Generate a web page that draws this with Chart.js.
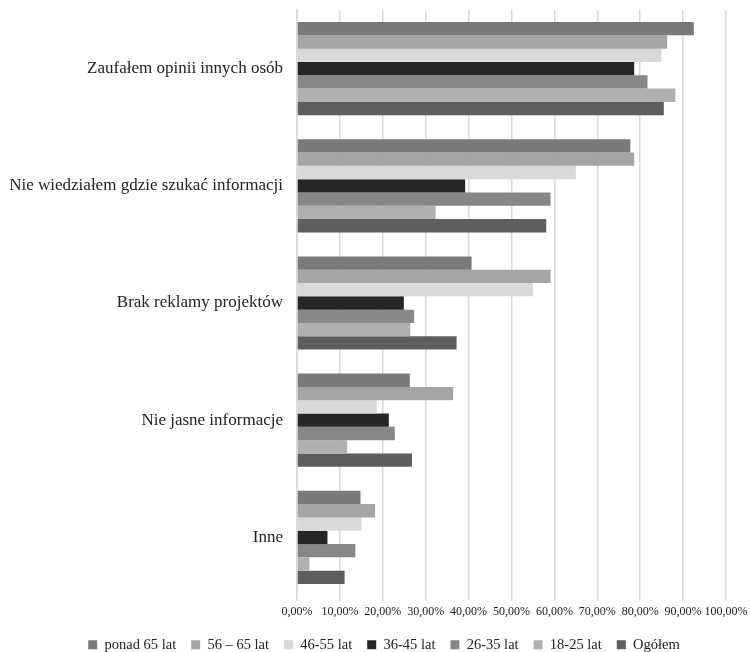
<!DOCTYPE html>
<html>
<head>
<meta charset="utf-8">
<script src="https://cdn.jsdelivr.net/npm/chart.js@4/dist/chart.umd.min.js"></script>
<style>
  html, body { margin: 0; padding: 0; background: #fff; }
  #wrap { width: 750px; height: 652px; }
</style>
</head>
<body>
<div id="wrap"><canvas id="barChart"></canvas></div>
<script>
let categories = ['Zaufałem opinii innych osób', 'Nie wiedziałem gdzie szukać informacji', 'Brak reklamy projektów', 'Nie jasne informacje', 'Inne'];
let seriesNames = ['ponad 65 lat', '56 – 65 lat', '46-55 lat', '36-45 lat', '26-35 lat', '18-25 lat', 'Ogółem'];
let seriesColors = ['#7a7a7a', '#a5a5a5', '#d9d9d9', '#262626', '#878787', '#b0b0b0', '#5e5e5e'];

let ponad65 = [0.925, 0.777, 0.407, 0.263, 0.148];
let lat56_65 = [0.863, 0.786, 0.591, 0.364, 0.182];
let lat46_55 = [0.849, 0.650, 0.550, 0.186, 0.150];
let lat36_45 = [0.786, 0.392, 0.249, 0.214, 0.071];
let lat26_35 = [0.817, 0.591, 0.273, 0.228, 0.136];
let lat18_25 = [0.882, 0.323, 0.264, 0.117, 0.029];
let ogolem = [0.855, 0.581, 0.372, 0.268, 0.111];

let seriesValues = [ponad65, lat56_65, lat46_55, lat36_45, lat26_35, lat18_25, ogolem];

// legend in the picture sits a little right of the page centre
let legendShift = {
    id: 'legendShift',
    afterLayout: function(c) {
        c.legend.left += 7;
        c.legend.right += 7;
    }
};

let chart = document.getElementById('barChart');
let barChart = new Chart(chart, {
    type: 'bar',
    data: {
        labels: categories,
        datasets: seriesNames.map(function(name, i) {
            return {
                label: name,
                data: seriesValues[i],
                backgroundColor: seriesColors[i],
                borderWidth: 0,
                barPercentage: 1.0,
                categoryPercentage: 0.795
            };
        })
    },
    plugins: [legendShift],
    options: {
        indexAxis: 'y',
        responsive: true,
        maintainAspectRatio: false,
        animation: false,
        layout: { padding: { left: 4, right: 0, top: 10, bottom: -10 } },
        plugins: {
            legend: {
                position: 'bottom',
                labels: {
                    font: { family: 'Liberation Serif', size: 14.5 },
                    color: '#222',
                    boxWidth: 9,
                    boxHeight: 9,
                    padding: 15
                }
            },
            tooltip: { enabled: false }
        },
        scales: {
            x: {
                min: 0,
                max: 1,
                afterFit: function(scale) {
                    scale.height = 26.5;
                    scale.paddingLeft = 0;
                    scale.paddingRight = 24;
                },
                ticks: {
                    stepSize: 0.1,
                    maxRotation: 0,
                    autoSkip: false,
                    color: '#222',
                    padding: 4,
                    font: { family: 'Liberation Serif', size: 12 },
                    callback: function(v) { return (v * 100).toFixed(2).replace('.', ',') + '%'; }
                },
                grid: { color: '#d9d9d9', lineWidth: 1.5, tickLength: 5 },
                border: { display: false }
            },
            y: {
                afterFit: function(scale) {
                    scale.width = 293;
                    scale.paddingTop = 0;
                    scale.paddingBottom = 0;
                },
                ticks: {
                    color: '#222',
                    padding: 14,
                    font: { family: 'Liberation Serif', size: 17 }
                },
                grid: { display: false, drawTicks: false },
                border: { display: true, color: '#d9d9d9', width: 1.5 }
            }
        }
    }
});
</script>
</body>
</html>
